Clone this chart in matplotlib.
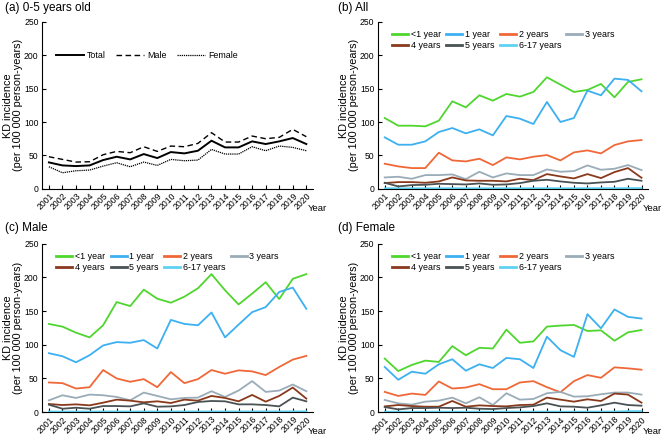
import matplotlib.pyplot as plt

years = list(range(2001, 2021))

# (a) 0-5 years old
total = [39.5, 35, 34, 35, 43, 48, 44, 52, 46, 55, 53, 57, 72, 62, 62, 71, 67, 71, 76, 67]
male = [48, 44, 40, 40.5, 51, 56, 54, 63, 56, 64, 63, 68, 84, 70, 70, 79, 75, 77, 89, 78]
female = [33, 24, 27, 28, 34, 39, 33, 40, 35, 44, 42, 43, 59, 52, 52, 63, 57, 64, 62, 57]

age_groups = ["<1 year", "1 year", "2 years", "3 years", "4 years", "5 years", "6-17 years"]
age_colors = ["#4fd62e", "#3cb0f0", "#f06838", "#9aacb8", "#8a3a1c", "#4a5254", "#5fd2f2"]

# (b) All
all_vals = [
    [106, 94.5, 94.5, 93.5, 102, 131, 122, 140, 132, 142, 138, 145, 167, 156, 145, 148, 157, 137, 160, 164],
    [77, 66, 66, 71, 85, 91, 83, 89, 80, 109, 105, 97, 130, 100, 106, 147, 140, 165, 163, 146],
    [37.5, 33.5, 31, 31, 54, 42.5, 41, 45, 35.5, 47, 44, 48, 50.5, 42.5, 54.5, 57.5, 53, 65.5, 71, 73],
    [17, 18, 15, 20.5, 20.5, 21.5, 14.5, 25.5, 17, 23, 20.5, 20.5, 29, 25.5, 26.5, 35, 28.5, 30, 35.5, 28],
    [8.5, 10, 10, 9, 11, 17, 12.5, 12, 12, 11, 15, 13, 22, 18.5, 15.5, 22, 16, 25, 31, 16.5],
    [9, 3.5, 5.5, 6, 7.5, 7, 6.5, 8, 6, 6.5, 8.5, 12, 13.5, 11, 9, 8, 9.5, 10.5, 15, 12],
    [0.8, 0.7, 0.7, 0.7, 0.8, 0.8, 0.7, 0.8, 0.7, 0.8, 0.8, 0.8, 0.9, 0.8, 0.8, 0.9, 0.9, 0.9, 1.0, 1.0],
]

# (c) Male
male_vals = [
    [131, 127, 118, 111, 129, 163.5, 157.5, 182, 168.5, 162.5, 171.5, 184, 205, 181, 160, 176, 193, 168, 198, 205],
    [87.5, 83, 74, 84.5, 99, 104, 103, 107, 94.5, 137, 131, 129, 148, 111, 130, 148.5, 156, 178.5, 185, 153.5],
    [44, 43, 35, 37, 62.5, 50, 45, 49, 37, 59.5, 43, 49, 62.5, 57, 62, 60.5, 55, 67, 78, 83.5],
    [17.5, 25, 21, 26, 25, 22.5, 17.5, 29, 24, 19, 21, 21.5, 31, 22.5, 32, 46, 30, 32, 41, 31],
    [12, 10.5, 11.5, 10, 14, 18.5, 17, 14.5, 16, 13.5, 18.5, 17, 24, 21, 16, 25.5, 15.5, 24, 36.5, 20],
    [11, 5, 6.5, 5, 9, 9, 8.5, 13, 8, 8.5, 10.5, 15, 16.5, 16, 11.5, 11.5, 10.5, 8.5, 21.5, 16],
    [0.9, 0.8, 0.8, 0.8, 0.9, 0.9, 0.8, 0.9, 0.8, 0.9, 0.9, 0.9, 1.0, 0.9, 0.9, 1.0, 1.0, 1.0, 1.1, 1.1],
]

# (d) Female
female_vals = [
    [79.5, 61, 70, 76.5, 74.5, 98, 84.5, 95.5, 94.5, 122.5, 103, 105, 127, 128.5, 129.5, 120.5, 121.5, 106, 118.5, 122],
    [67, 48, 60, 57, 71, 78.5, 61.5, 71, 65.5, 80.5, 78.5, 65.5, 112, 92, 82, 145.5, 124.5, 152.5, 141.5, 139],
    [30, 24, 27.5, 25.5, 45.5, 35, 36.5, 41.5, 34, 34, 44, 46, 37, 29.5, 46, 55, 51, 66.5, 65, 63],
    [18, 13, 11, 15.5, 17, 21.5, 13, 22, 10.5, 28, 18.5, 19.5, 28, 30, 23, 23.5, 26.5, 29, 29, 26],
    [8.5, 10.5, 9, 8, 8, 16.5, 8, 10, 9, 8.5, 10.5, 11, 21.5, 18.5, 15.5, 19, 16.5, 27.5, 26, 14],
    [7.5, 4, 6, 6, 6.5, 6, 6.5, 5, 4.5, 6, 7, 9, 13, 8.5, 8, 6.5, 10, 14, 10.5, 9.5],
    [0.6, 0.5, 0.5, 0.5, 0.6, 0.6, 0.5, 0.6, 0.5, 0.6, 0.6, 0.6, 0.7, 0.6, 0.6, 0.7, 0.7, 0.8, 1.4, 1.5],
]

plt.rcParams["font.family"] = ["Liberation Sans", "DejaVu Sans"]

fig = plt.figure(figsize=(6.69, 4.37), dpi=100)
ax_a = fig.add_axes([0.063, 0.568, 0.405, 0.382])
ax_b = fig.add_axes([0.565, 0.568, 0.404, 0.382])
ax_c = fig.add_axes([0.063, 0.057, 0.405, 0.385])
ax_d = fig.add_axes([0.565, 0.057, 0.404, 0.385])


def style_axis(ax):
    ax.spines["top"].set_visible(False)
    ax.spines["right"].set_visible(False)
    ax.set_xlim(2000.5, 2020.5)
    ax.set_ylim(0, 250)
    ax.set_yticks([0, 50, 100, 150, 200, 250])
    ax.set_xticks(years)
    ax.set_xticklabels([str(y) for y in years], rotation=45, ha="right",
                       rotation_mode="anchor", fontsize=6.2)
    ax.tick_params(axis="both", direction="in", length=3, labelsize=6.2)
    ax.tick_params(axis="y", pad=2.5)
    ax.tick_params(axis="x", pad=2)
    ax.set_ylabel("KD incidence\n(per 100 000 person-years)", fontsize=7.8,
                  labelpad=0.5, linespacing=1.05)
    ax.text(0.98, -0.09, "Year", transform=ax.transAxes, fontsize=6.8,
            ha="left", va="top")


# panel (a)
ax_a.plot(years, total, color="black", lw=1.4, label="Total")
ax_a.plot(years, male, color="black", lw=1.0, ls=(0, (4, 2.5)), label="Male")
ax_a.plot(years, female, color="black", lw=0.9, ls=(0, (1, 0.7)), label="Female")
style_axis(ax_a)
ax_a.legend(ncol=3, frameon=False, fontsize=6.4, loc="center left",
            bbox_to_anchor=(0.02, 0.8), handlelength=3.2, columnspacing=1.1,
            handletextpad=0.35)

# panels (b)-(d)
order = [0, 4, 1, 5, 2, 6, 3]
for ax, data in [(ax_b, all_vals), (ax_c, male_vals), (ax_d, female_vals)]:
    lines = []
    for name, vals, col in zip(age_groups, data, age_colors):
        ln, = ax.plot(years, vals, color=col, lw=1.3, label=name)
        lines.append(ln)
    style_axis(ax)
    leg = ax.legend([lines[i] for i in order], [age_groups[i] for i in order],
                    ncol=4, frameon=False, fontsize=6.4, loc="upper left",
                    bbox_to_anchor=(0.03, 0.99), handlelength=1.8, columnspacing=0.6,
                    handletextpad=0.3, labelspacing=0.3, borderpad=0.2)
    for h in leg.legend_handles:
        h.set_linewidth(2.0)

fig.text(0.007, 0.995, "(a) 0-5 years old", fontsize=8.5, va="top")
fig.text(0.505, 0.995, "(b) All", fontsize=8.5, va="top")
fig.text(0.007, 0.492, "(c) Male", fontsize=8.5, va="top")
fig.text(0.505, 0.492, "(d) Female", fontsize=8.5, va="top")

fig.savefig("out.png", dpi=100)
